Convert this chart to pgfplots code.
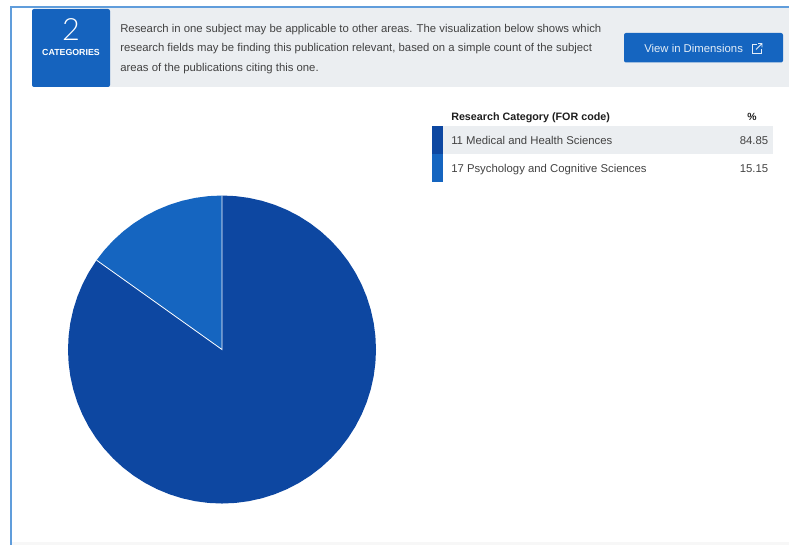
\documentclass[border=0pt]{standalone}
\usepackage{fontspec}
\usepackage{pgfplots}
\usepgfplotslibrary{polar}
\pgfplotsset{compat=1.18}
\setmainfont{Liberation Sans}
\newfontfamily\lightfont{Lato Light}
\definecolor{edgeblue}{RGB}{96,157,219}
\definecolor{panelgrey}{RGB}{235,238,241}
\definecolor{boxblue}{RGB}{21,99,190}
\definecolor{darkblue}{RGB}{13,71,161}
\definecolor{midblue}{RGB}{21,101,192}
\definecolor{bodytext}{RGB}{66,66,66}
\definecolor{headtext}{RGB}{30,30,30}
\tikzset{txt/.style={anchor=base west, inner sep=0pt, font=\fontsize{8.5}{10}\selectfont, text=bodytext}}
\begin{document}
\begin{tikzpicture}[x=1pt,y=1pt]
    \path[use as bounding box] (0,0) rectangle (591.75,408.75);

    % page furniture, in reference pixels
    \begin{axis}[
        at={(0pt,0pt)}, anchor=south west,
        scale only axis, width=591.75pt, height=408.75pt,
        xmin=0, xmax=789, ymin=0, ymax=545,
        y dir=reverse, hide axis,
    ]
        \fill[white!97!black] (axis cs:12,542) rectangle (axis cs:789,545);
        \fill[edgeblue] (axis cs:10,6) rectangle (axis cs:12.2,545);
        \fill[edgeblue] (axis cs:10,6) rectangle (axis cs:789,8.2);

        \fill[panelgrey] (axis cs:100,8.2) rectangle (axis cs:789,87);
        \fill[boxblue, rounded corners=1.5pt] (axis cs:32,9) rectangle (axis cs:110,87);
        \node[anchor=base, inner sep=0pt, text=white, font=\lightfont\fontsize{23}{25}\selectfont] at (axis cs:71,41) {2};
        \node[anchor=base, inner sep=0pt, text=white, font=\bfseries\fontsize{6.6}{8}\selectfont] at (axis cs:71,56) {CATEGORIES};

        \node[txt] at (axis cs:120,32.7) {Research in one subject may be applicable to other areas. The visualization below shows which};
        \node[txt] at (axis cs:120,51.7) {research fields may be finding this publication relevant, based on a simple count of the subject};
        \node[txt] at (axis cs:120,71.7) {areas of the publications citing this one.};

        \fill[midblue, rounded corners=1.5pt] (axis cs:624,33) rectangle (axis cs:783,62.5);
        \node[txt, text=white!88!midblue] at (axis cs:644,52.5) {View in Dimensions};
        \draw[white!88!midblue, line width=0.7pt] (axis cs:757,44.5) -- (axis cs:752.5,44.5) -- (axis cs:752.5,53) -- (axis cs:761,53) -- (axis cs:761,49);
        \draw[white!88!midblue, line width=0.7pt] (axis cs:756,49.5) -- (axis cs:762,43.5) (axis cs:758,43.5) -- (axis cs:762,43.5) -- (axis cs:762,47.5);

        % table beside the pie
        \fill[panelgrey] (axis cs:443,126) rectangle (axis cs:773,154);
        \fill[darkblue] (axis cs:432,126) rectangle (axis cs:443,154);
        \fill[midblue] (axis cs:432,154) rectangle (axis cs:443,182);
        \node[txt, text=headtext, font=\bfseries\fontsize{8.05}{10}\selectfont] at (axis cs:451,120.7) {Research Category (FOR code)};
        \node[anchor=base, inner sep=0pt, text=headtext, font=\bfseries\fontsize{7.8}{10}\selectfont] at (axis cs:752,120.7) {\%};
        \node[txt] at (axis cs:451,144.7) {11 Medical and Health Sciences};
        \node[txt] at (axis cs:451,172.7) {17 Psychology and Cognitive Sciences};
        \node[txt, anchor=base east] at (axis cs:768.5,144.7) {84.85};
        \node[txt, anchor=base east] at (axis cs:768.5,172.7) {15.15};
    \end{axis}

    % pie: slice edges at 90 deg and 90+0.1515*360=144.54 deg, radius in pixels
    \begin{polaraxis}[
        at={(166.5pt,146.6pt)}, anchor=center,
        scale only axis, width=231.75pt, height=231.75pt,
        xmin=0, xmax=360, ymin=0, ymax=154.5,
        hide axis, clip=false,
    ]
        \addplot[fill=darkblue, draw=none] coordinates {
            (0,0) (144.54,154) (150,154) (155,154) (160,154) (165,154) (170,154) (175,154)
            (180,154) (185,154) (190,154) (195,154) (200,154) (205,154) (210,154) (215,154)
            (220,154) (225,154) (230,154) (235,154) (240,154) (245,154) (250,154) (255,154)
            (260,154) (265,154) (270,154) (275,154) (280,154) (285,154) (290,154) (295,154)
            (300,154) (305,154) (310,154) (315,154) (320,154) (325,154) (330,154) (335,154)
            (340,154) (345,154) (350,154) (355,154) (360,154) (5,154) (10,154) (15,154)
            (20,154) (25,154) (30,154) (35,154) (40,154) (45,154) (50,154) (55,154)
            (60,154) (65,154) (70,154) (75,154) (80,154) (85,154) (90,154) (0,0)
        };
        \addplot[fill=midblue, draw=none] coordinates {
            (0,0) (90,154) (95,154) (100,154) (105,154) (110,154) (115,154) (120,154)
            (125,154) (130,154) (135,154) (140,154) (144.54,154) (0,0)
        };
        % white separators between the slices
        \addplot[white, line width=0.6pt] coordinates {(144.54,154) (0,0) (90,154)};
    \end{polaraxis}
\end{tikzpicture}
\end{document}
